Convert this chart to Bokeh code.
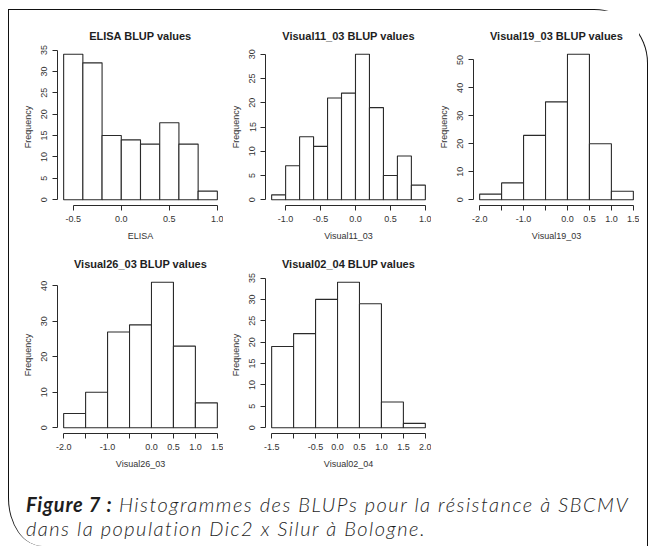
from bokeh.plotting import figure
from bokeh.models import Range1d, LinearAxis, FixedTicker, Spacer, Div
from bokeh.layouts import row, column
from bokeh.embed import file_html
from bokeh.resources import INLINE

# ---------------- data ----------------
elisa_breaks = [-0.6, -0.4, -0.2, 0.0, 0.2, 0.4, 0.6, 0.8, 1.0]
elisa_counts = [34, 32, 15, 14, 13, 18, 13, 2]
elisa_xticks = [-0.5, 0.0, 0.5, 1.0]
elisa_xlabels = ["-0.5", "0.0", "0.5", "1.0"]
elisa_yticks = [0, 5, 10, 15, 20, 25, 30, 35]

v11_breaks = [-1.2, -1.0, -0.8, -0.6, -0.4, -0.2, 0.0, 0.2, 0.4, 0.6, 0.8, 1.0]
v11_counts = [1, 7, 13, 11, 21, 22, 30, 19, 5, 9, 3]
v11_xticks = [-1.0, -0.5, 0.0, 0.5, 1.0]
v11_xlabels = ["-1.0", "-0.5", "0.0", "0.5", "1.0"]
v11_yticks = [0, 5, 10, 15, 20, 25, 30]

v19_breaks = [-2.0, -1.5, -1.0, -0.5, 0.0, 0.5, 1.0, 1.5]
v19_counts = [2, 6, 23, 35, 52, 20, 3]
v19_xticks = [-2.0, -1.5, -1.0, -0.5, 0.0, 0.5, 1.0, 1.5]
v19_xlabels = ["-2.0", "", "-1.0", "", "0.0", "0.5", "1.0", "1.5"]
v19_yticks = [0, 10, 20, 30, 40, 50]

v26_breaks = [-2.0, -1.5, -1.0, -0.5, 0.0, 0.5, 1.0, 1.5]
v26_counts = [4, 10, 27, 29, 41, 23, 7]
v26_xticks = [-2.0, -1.5, -1.0, -0.5, 0.0, 0.5, 1.0, 1.5]
v26_xlabels = ["-2.0", "", "-1.0", "", "0.0", "0.5", "1.0", "1.5"]
v26_yticks = [0, 10, 20, 30, 40]

v02_breaks = [-1.5, -1.0, -0.5, 0.0, 0.5, 1.0, 1.5, 2.0]
v02_counts = [19, 22, 30, 34, 29, 6, 1]
v02_xticks = [-1.5, -1.0, -0.5, 0.0, 0.5, 1.0, 1.5, 2.0]
v02_xlabels = ["-1.5", "", "-0.5", "0.0", "0.5", "1.0", "1.5", "2.0"]
v02_yticks = [0, 5, 10, 15, 20, 25, 30, 35]

FONT = "Liberation Sans"
INK = "#2a2a2a"


def hist(title, xlabel, breaks, counts, xticks, xlabels, yticks, top_border):
    lo, hi = breaks[0], breaks[-1]
    pad = 0.04 * (hi - lo)
    ymax = max(counts)
    p = figure(frame_width=166, frame_height=157,
               min_border_left=42, min_border_right=0,
               min_border_top=top_border, min_border_bottom=40,
               x_range=Range1d(lo - pad, hi + pad),
               y_range=Range1d(-0.04 * ymax, 1.04 * ymax),
               x_axis_type=None, y_axis_type=None,
               toolbar_location=None, output_backend="svg", title=title)
    p.quad(left=breaks[:-1], right=breaks[1:], bottom=0, top=counts,
           fill_color="white", line_color=INK, line_width=1.1)
    p.outline_line_color = None
    p.background_fill_color = "white"
    p.border_fill_color = "white"
    p.title.align = "center"
    p.title.text_font = FONT
    p.title.text_font_size = "11px"
    p.title.text_font_style = "bold"
    p.title.text_color = "#1e1e1e"
    p.title.standoff = 13

    xa = LinearAxis(ticker=FixedTicker(ticks=xticks),
                    bounds=(xticks[0], xticks[-1]),
                    axis_label=xlabel,
                    major_label_overrides={t: l for t, l in zip(xticks, xlabels)})
    ya = LinearAxis(ticker=FixedTicker(ticks=yticks),
                    bounds=(yticks[0], yticks[-1]),
                    axis_label="Frequency",
                    major_label_orientation="vertical",
                    major_label_overrides={t: str(t) for t in yticks})
    for ax in (xa, ya):
        ax.axis_line_color = INK
        ax.major_tick_line_color = INK
        ax.minor_tick_line_color = None
        ax.major_tick_out = 5
        ax.major_tick_in = 0
        ax.major_label_text_font = FONT
        ax.major_label_text_font_size = "9px"
        ax.major_label_text_color = "#333333"
        ax.axis_label_text_font = FONT
        ax.axis_label_text_font_size = "9px"
        ax.axis_label_text_font_style = "normal"
        ax.axis_label_text_color = "#333333"
        ax.major_label_standoff = 5
        ax.axis_label_standoff = 6
    p.add_layout(xa, "below")
    p.add_layout(ya, "left")
    return p


p1 = hist("ELISA BLUP values", "ELISA", elisa_breaks, elisa_counts,
          elisa_xticks, elisa_xlabels, elisa_yticks, 38)
p2 = hist("Visual11_03 BLUP values", "Visual11_03", v11_breaks, v11_counts,
          v11_xticks, v11_xlabels, v11_yticks, 38)
p3 = hist("Visual19_03 BLUP values", "Visual19_03", v19_breaks, v19_counts,
          v19_xticks, v19_xlabels, v19_yticks, 38)
p4 = hist("Visual26_03 BLUP values", "Visual26_03", v26_breaks, v26_counts,
          v26_xticks, v26_xlabels, v26_yticks, 31)
p5 = hist("Visual02_04 BLUP values", "Visual02_04", v02_breaks, v02_counts,
          v02_xticks, v02_xlabels, v02_yticks, 31)

caption_html = (
    '<div style="font-family: Lato, \'Open Sans\', sans-serif; font-style: italic; '
    'font-weight: 300; font-size: 20px; letter-spacing: 1.5px; line-height: 24px; '
    'color: #1e1e1e; white-space: nowrap; padding: 14px 0 0 12px;">'
    '<span style="font-weight: 700; letter-spacing: 0.8px;">Figure 7 :</span> '
    'Histogrammes des BLUPs pour la r\u00e9sistance \u00e0 SBCMV<br>'
    'dans la population Dic2 x Silur \u00e0 Bologne.</div>'
)
caption = Div(text=caption_html, width=637, height=74)

row1 = row(Spacer(width=6, height=235), p1, p2, p3)
row2 = row(Spacer(width=6, height=228), p4, p5)

framed = column(row1, row2, caption, width=640, height=537, sizing_mode="fixed",
                styles={
                    "border-top": "1.5px solid #111",
                    "border-left": "1.5px solid #111",
                    "border-right": "1.5px solid #111",
                    "border-top-right-radius": "54px",
                    "border-bottom-left-radius": "34px 48px",
                })

root = column(Spacer(width=648, height=9),
              row(Spacer(width=8, height=537), framed, width=648, sizing_mode="fixed"),
              width=648, sizing_mode="fixed")

open("out.html", "w").write(file_html(root, INLINE))
